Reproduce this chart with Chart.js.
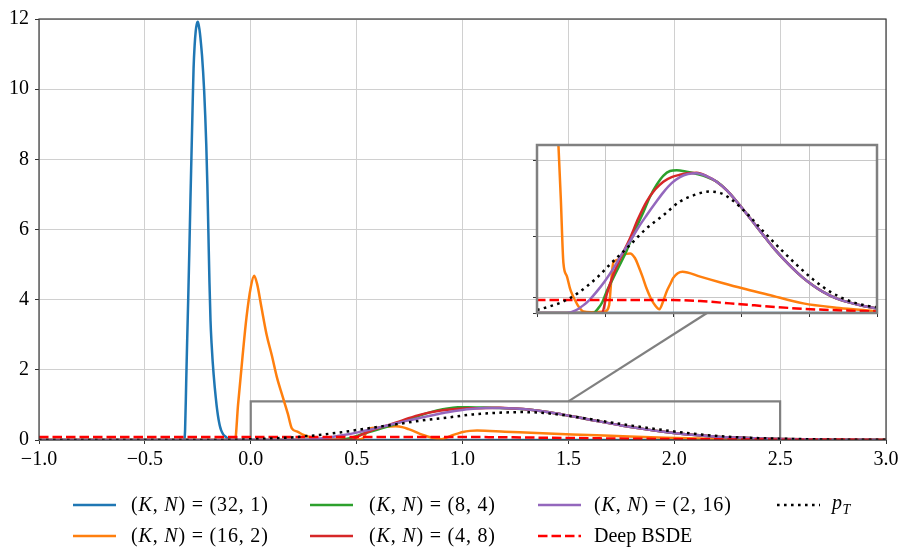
<!DOCTYPE html>
<html><head><meta charset="utf-8">
<script src="https://cdn.jsdelivr.net/npm/chart.js@4.4.1/dist/chart.umd.min.js"></script>
<style>
html,body{margin:0;padding:0;background:#fff;}
#wrap{position:relative;width:899px;height:547px;overflow:hidden;}
#main{position:absolute;left:0;top:0;}
#inset{position:absolute;left:527px;top:140px;}
</style></head><body>
<div id="wrap"><canvas id="main" width="899" height="547"></canvas><canvas id="inset" width="360" height="185"></canvas></div>
<script>
// ---- tick values ----
const xTickValues = [-1.0, -0.5, 0.0, 0.5, 1.0, 1.5, 2.0, 2.5, 3.0];
const yTickValues = [0, 2, 4, 6, 8, 10, 12];
const insetXTickValues = [0, 0.5, 1.0, 1.5, 2.0, 2.5];
const insetYTickValues = [0, 0.1, 0.5, 1.0];

// ---- series labels ----
const seriesLabels = ["(K, N) = (32, 1)", "(K, N) = (16, 2)", "(K, N) = (8, 4)", "(K, N) = (4, 8)", "(K, N) = (2, 16)", "Deep BSDE", "p_T"];

// ---- (K,N) = (32,1) ----
const x_32_1 = [-1.0, -0.315, -0.31, -0.305, -0.30, -0.295, -0.29, -0.285, -0.28, -0.275, -0.27, -0.265, -0.26, -0.255, -0.25, -0.245, -0.24, -0.235, -0.23, -0.225, -0.22, -0.215, -0.21, -0.205, -0.20, -0.195, -0.19, -0.185, -0.18, -0.175, -0.17, -0.165, -0.16, -0.155, -0.15, -0.145, -0.14, -0.13, -0.12, -0.11, -0.10, -0.09, 3.0];
const y_32_1 = [0, 0, 0.3, 1.6, 2.9, 4.1, 5.4, 6.8, 8.1, 9.4, 10.6, 11.25, 11.65, 11.85, 11.92, 11.8, 11.6, 11.3, 10.95, 10.5, 9.95, 9.25, 8.4, 7.3, 5.9, 4.5, 3.4, 2.75, 2.25, 1.85, 1.5, 1.2, 0.92, 0.7, 0.52, 0.38, 0.28, 0.16, 0.1, 0.05, 0.02, 0, 0];

// ---- (K,N) = (16,2) ----
const x_16_2 = [-1.0, -0.08, -0.074, -0.06, -0.04, -0.02, 0.0, 0.016, 0.03, 0.05, 0.075, 0.10, 0.123, 0.15, 0.175, 0.194, 0.22, 0.243, 0.26, 0.279, 0.30, 0.316, 0.34, 0.40, 0.50, 0.53, 0.545, 0.561, 0.60, 0.635, 0.684, 0.72, 0.745, 0.775, 0.806, 0.835, 0.868, 0.90, 0.925, 0.953, 0.98, 1.002, 1.035, 1.069, 1.2, 1.35, 1.517, 1.7, 1.958, 2.2, 2.4, 2.5, 2.75, 3.0];
const y_16_2 = [0, 0, 0, 1.0, 2.3, 3.5, 4.35, 4.68, 4.45, 3.8, 3.0, 2.4, 1.8, 1.25, 0.75, 0.33, 0.24, 0.16, 0.12, 0.085, 0.05, 0.03, 0.01, 0.005, 0.01, 0.05, 0.2, 0.33, 0.35, 0.38, 0.39, 0.36, 0.31, 0.24, 0.16, 0.1, 0.05, 0.024, 0.07, 0.14, 0.19, 0.23, 0.26, 0.27, 0.238, 0.2, 0.16, 0.12, 0.063, 0.035, 0.02, 0.012, 0.005, 0.002];

// ---- (K,N) = (8,4) ----
const x_8_4 = [-1.0, 0.40, 0.414, 0.45, 0.48, 0.512, 0.55, 0.60, 0.66, 0.72, 0.782, 0.83, 0.88, 0.93, 0.978, 1.027, 1.1, 1.176, 1.25, 1.321, 1.4, 1.468, 1.55, 1.664, 1.75, 1.86, 1.95, 2.03, 2.1, 2.2, 2.3, 2.4, 2.5, 2.6, 2.75, 3.0];
const y_8_4 = [0, 0, 0, 0.03, 0.07, 0.14, 0.21, 0.3, 0.41, 0.54, 0.66, 0.76, 0.84, 0.9, 0.93, 0.935, 0.925, 0.91, 0.89, 0.86, 0.8, 0.73, 0.64, 0.51, 0.415, 0.31, 0.235, 0.18, 0.14, 0.096, 0.068, 0.046, 0.03, 0.02, 0.01, 0.003];

// ---- (K,N) = (4,8) ----
const x_4_8 = [-1.0, 0.47, 0.478, 0.512, 0.561, 0.62, 0.684, 0.745, 0.806, 0.87, 0.929, 0.99, 1.051, 1.11, 1.174, 1.25, 1.321, 1.4, 1.468, 1.55, 1.664, 1.75, 1.86, 1.95, 2.03, 2.1, 2.2, 2.3, 2.4, 2.5, 2.6, 2.75, 3.0];
const y_4_8 = [0, 0, 0, 0.12, 0.25, 0.37, 0.49, 0.62, 0.73, 0.81, 0.86, 0.89, 0.905, 0.915, 0.918, 0.895, 0.86, 0.8, 0.73, 0.64, 0.51, 0.415, 0.31, 0.235, 0.18, 0.14, 0.096, 0.068, 0.046, 0.03, 0.02, 0.01, 0.003];

// ---- (K,N) = (2,16) ----
const x_2_16 = [-1.0, 0.20, 0.218, 0.28, 0.34, 0.39, 0.439, 0.5, 0.561, 0.62, 0.684, 0.745, 0.806, 0.87, 0.929, 0.99, 1.051, 1.11, 1.174, 1.25, 1.321, 1.4, 1.468, 1.55, 1.664, 1.75, 1.86, 1.95, 2.03, 2.1, 2.2, 2.3, 2.4, 2.5, 2.6, 2.75, 3.0];
const y_2_16 = [0, 0, 0, 0.015, 0.05, 0.09, 0.14, 0.21, 0.29, 0.38, 0.47, 0.56, 0.64, 0.72, 0.79, 0.85, 0.89, 0.91, 0.915, 0.895, 0.86, 0.8, 0.73, 0.64, 0.51, 0.415, 0.31, 0.235, 0.18, 0.14, 0.096, 0.068, 0.046, 0.03, 0.02, 0.01, 0.003];

// ---- Deep BSDE ----
const x_bsde = [-1.0, 0.0, 0.5, 1.0, 1.2, 1.42, 1.6, 1.91, 2.2, 2.5, 2.75, 3.0];
const y_bsde = [0.085, 0.085, 0.085, 0.085, 0.078, 0.063, 0.05, 0.03, 0.018, 0.01, 0.005, 0.002];

// ---- p_T ----
const x_pT = [-1.0, -0.1, 0.0, 0.1, 0.19, 0.3, 0.439, 0.55, 0.684, 0.8, 0.929, 1.051, 1.15, 1.223, 1.27, 1.35, 1.42, 1.55, 1.664, 1.8, 1.91, 2.03, 2.154, 2.28, 2.4, 2.5, 2.65, 2.8, 3.0];
const y_pT = [0, 0.0, 0.02, 0.045, 0.074, 0.13, 0.23, 0.33, 0.445, 0.55, 0.64, 0.73, 0.77, 0.79, 0.795, 0.785, 0.75, 0.645, 0.535, 0.41, 0.315, 0.22, 0.14, 0.085, 0.052, 0.038, 0.02, 0.01, 0.004];

const FONT = "'Liberation Serif', 'Times New Roman', serif";
const pts = (xs, ys) => xs.map((x, i) => ({x: x, y: ys[i]}));
const seriesDefs = [
  {xs: x_32_1, ys: y_32_1, color: '#1f77b4', dash: []},
  {xs: x_16_2, ys: y_16_2, color: '#ff7f0e', dash: []},
  {xs: x_8_4, ys: y_8_4, color: '#2ca02c', dash: []},
  {xs: x_4_8, ys: y_4_8, color: '#d62728', dash: []},
  {xs: x_2_16, ys: y_2_16, color: '#9467bd', dash: []},
  {xs: x_bsde, ys: y_bsde, color: '#ff0000', dash: [9.5, 4]},
  {xs: x_pT, ys: y_pT, color: '#000000', dash: [2.6, 4.4]}
];
function makeDatasets() {
  return seriesDefs.map((s, i) => ({
    label: seriesLabels[i],
    data: pts(s.xs, s.ys),
    borderColor: s.color,
    backgroundColor: s.color,
    borderWidth: 2.5,
    borderDash: s.dash,
    borderCapStyle: 'butt',
    pointRadius: 0,
    fill: false,
    cubicInterpolationMode: 'monotone',
    order: seriesDefs.length - i
  }));
}
function fmt(v) {
  const s = Math.abs(v).toFixed(1);
  return v < 0 ? '\u2212' + s : s;
}

// legend drawing
function drawLabel(ctx, label, x, y) {
  ctx.fillStyle = '#000';
  ctx.textBaseline = 'middle';
  ctx.textAlign = 'left';
  if (label === 'p_T') {
    ctx.font = 'italic 20px ' + FONT;
    ctx.fillText('p', x, y - 2);
    const w = ctx.measureText('p').width;
    ctx.font = 'italic 14px ' + FONT;
    ctx.fillText('T', x + w + 0.5, y + 4);
    return;
  }
  if (label.indexOf('(K') !== 0) {
    ctx.font = '20px ' + FONT;
    ctx.fillText(label, x, y);
    return;
  }
  let cx = x;
  for (const ch of label) {
    const it = (ch === 'K' || ch === 'N');
    ctx.font = (it ? 'italic ' : '') + '20px ' + FONT;
    let extra = 0.9;
    if (ch === ' ') extra = 0.6;
    ctx.fillText(ch, cx, y);
    cx += ctx.measureText(ch).width + extra;
  }
}
const legendPlugin = {
  id: 'mplLegend',
  afterDraw(chart) {
    const ctx = chart.ctx;
    const lineX = [73, 310, 538, 777];
    const textX = [131, 369, 594, 832];
    const rowY = [505, 536];
    ctx.save();
    seriesDefs.forEach((s, i) => {
      const c = Math.floor(i / 2), r = i % 2;
      ctx.beginPath();
      ctx.strokeStyle = s.color;
      ctx.lineWidth = 2.5;
      ctx.lineCap = 'butt';
      ctx.setLineDash(s.dash);
      ctx.moveTo(lineX[c], rowY[r]);
      ctx.lineTo(lineX[c] + 43, rowY[r]);
      ctx.stroke();
      ctx.setLineDash([]);
      drawLabel(ctx, seriesLabels[i], textX[c], rowY[r] + 1);
    });
    ctx.restore();
  }
};
const mainDeco = {
  id: 'mainDeco',
  beforeDraw(chart) {
    const ctx = chart.ctx;
    ctx.save(); ctx.fillStyle = '#fff'; ctx.fillRect(0, 0, chart.width, chart.height); ctx.restore();
  },
  beforeDatasetsDraw(chart) {
    const ctx = chart.ctx, xs = chart.scales.x, ys = chart.scales.y;
    ctx.save();
    ctx.strokeStyle = '#808080';
    ctx.lineWidth = 2.2;
    const x0 = xs.getPixelForValue(0), x1 = xs.getPixelForValue(2.5);
    const y0 = ys.getPixelForValue(0), y1 = ys.getPixelForValue(1.1);
    ctx.beginPath();
    ctx.moveTo(x0, y0); ctx.lineTo(x0, y1); ctx.lineTo(x1, y1); ctx.lineTo(x1, y0);
    ctx.stroke();
    // connector to inset
    const ins = insetChart ? insetChart.chartArea : null;
    if (ins) {
      const ix = 527 + insetChart.scales.x.getPixelForValue(1.25);
      const iy = 140 + ins.bottom;
      ctx.beginPath();
      ctx.moveTo(xs.getPixelForValue(1.5), y1);
      ctx.lineTo(ix, iy);
      ctx.stroke();
    }
    ctx.restore();
  },
  afterDatasetsDraw(chart) {
    const ctx = chart.ctx, a = chart.chartArea;
    ctx.save();
    ctx.strokeStyle = '#3a3a3a';
    ctx.lineWidth = 1.2;
    ctx.strokeRect(a.left, a.top, a.right - a.left, a.bottom - a.top);
    ctx.restore();
  }
};
const insetDeco = {
  id: 'insetDeco',
  beforeDraw(chart) {
    const ctx = chart.ctx, a = chart.chartArea;
    ctx.save(); ctx.fillStyle = '#fff'; ctx.fillRect(a.left, a.top, a.right - a.left, a.bottom - a.top); ctx.restore();
  },
  afterDraw(chart) {
    const ctx = chart.ctx, a = chart.chartArea;
    ctx.save();
    ctx.strokeStyle = '#808080';
    ctx.lineWidth = 2.5;
    ctx.strokeRect(a.left, a.top, a.right - a.left, a.bottom - a.top);
    ctx.restore();
  }
};

let insetChart = null;
insetChart = new Chart(document.getElementById('inset'), {
  type: 'line',
  data: {datasets: makeDatasets()},
  options: {
    responsive: false, animation: false, devicePixelRatio: 1,
    layout: {padding: {left: 0, top: 5, right: 10, bottom: 0}},
    plugins: {legend: {display: false}, tooltip: {enabled: false}},
    scales: {
      x: {
        type: 'linear', min: 0, max: 2.5,
        afterBuildTicks: s => { s.ticks = insetXTickValues.map(v => ({value: v})); },
        afterFit: s => { s.height = 12; s.paddingLeft = 0; s.paddingRight = 0; },
        ticks: {display: false},
        grid: {color: '#c8c8c8', lineWidth: 1, tickLength: 4, tickColor: '#333', drawTicks: true},
        border: {display: false}
      },
      y: {
        type: 'linear', min: 0, max: 1.1,
        afterBuildTicks: s => { s.ticks = insetYTickValues.map(v => ({value: v})); },
        afterFit: s => { s.width = 10; s.paddingTop = 0; s.paddingBottom = 0; },
        ticks: {display: false},
        grid: {color: '#c8c8c8', lineWidth: 1, tickLength: 4, tickColor: '#333', drawTicks: true},
        border: {display: false}
      }
    }
  },
  plugins: [insetDeco]
});

const mainChart = new Chart(document.getElementById('main'), {
  type: 'line',
  data: {datasets: makeDatasets()},
  options: {
    responsive: false, animation: false, devicePixelRatio: 1,
    layout: {padding: {left: 0, top: 19, right: 13, bottom: 0}},
    plugins: {legend: {display: false}, tooltip: {enabled: false}},
    scales: {
      x: {
        type: 'linear', min: -1, max: 3,
        afterBuildTicks: s => { s.ticks = xTickValues.map(v => ({value: v})); },
        afterFit: s => { s.height = 107; s.paddingLeft = 0; s.paddingRight = 0; },
        ticks: {color: '#000', font: {family: FONT, size: 20}, padding: 4, maxRotation: 0, autoSkip: false, callback: v => fmt(v)},
        grid: {color: '#d0d0d0', lineWidth: 1, tickLength: 4, tickColor: '#333'},
        border: {display: false}
      },
      y: {
        type: 'linear', min: 0, max: 12,
        afterBuildTicks: s => { s.ticks = yTickValues.map(v => ({value: v})); },
        afterFit: s => { s.width = 39; s.paddingTop = 0; s.paddingBottom = 0; },
        ticks: {color: '#000', font: {family: FONT, size: 20}, padding: 6, autoSkip: false, callback: v => String(v)},
        grid: {color: '#d0d0d0', lineWidth: 1, tickLength: 4, tickColor: '#333'},
        border: {display: false}
      }
    }
  },
  plugins: [mainDeco, legendPlugin]
});
</script>
</body></html>
